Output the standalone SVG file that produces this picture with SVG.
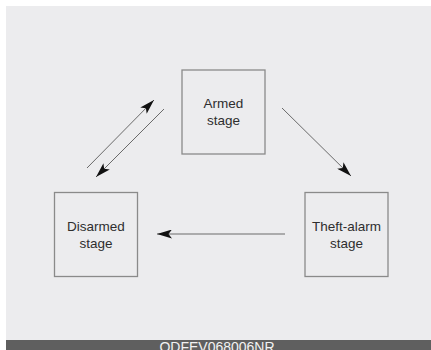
<svg xmlns="http://www.w3.org/2000/svg" width="431" height="350" viewBox="0 0 431 350">
<defs>
<style>
.box{fill:none;stroke:#8a8a8a;stroke-width:1.3}
.lbl{font-family:"Liberation Sans",Arial,sans-serif;font-size:13.5px;fill:#2e2e2e;text-anchor:middle}
.con{stroke:#6a6a6a;stroke-width:1;fill:none;marker-end:url(#ah)}
</style>
<marker id="ah" viewBox="0 0 15 9" refX="15" refY="4.5" markerWidth="15" markerHeight="9" markerUnits="userSpaceOnUse" orient="auto">
<path d="M0,0 L15,4.5 L0,9 L3.5,4.5 Z" fill="#111"/>
</marker>
</defs>
<rect x="0" y="0" width="431" height="350" fill="#ffffff"/>
<rect x="6" y="6" width="425" height="334" fill="#ececee"/>
<rect x="6" y="340" width="425" height="10" fill="#5f5f5f"/>
<text x="217" y="351.5" font-family="'Liberation Sans',Arial,sans-serif" font-size="14" fill="#f2f2f2" text-anchor="middle">ODFEV068006NR</text>
<g id="armed">
<rect class="box" x="182" y="70" width="83" height="84"/>
<text class="lbl" x="223.5" y="108">Armed</text>
<text class="lbl" x="223.5" y="125">stage</text>
</g>
<g id="disarmed">
<rect class="box" x="54.5" y="192.5" width="83" height="84"/>
<text class="lbl" x="96" y="231">Disarmed</text>
<text class="lbl" x="96" y="248">stage</text>
</g>
<g id="theft">
<rect class="box" x="305" y="192.5" width="83" height="84"/>
<text class="lbl" x="346.5" y="231">Theft-alarm</text>
<text class="lbl" x="346.5" y="248">stage</text>
</g>
<g id="connectors">
<line class="con" x1="87" y1="168" x2="154" y2="100"/>
<line class="con" x1="164" y1="109" x2="96" y2="177"/>
<line class="con" x1="282" y1="108" x2="351" y2="176"/>
<line class="con" x1="285" y1="234" x2="157" y2="234"/>
</g>
</svg>
